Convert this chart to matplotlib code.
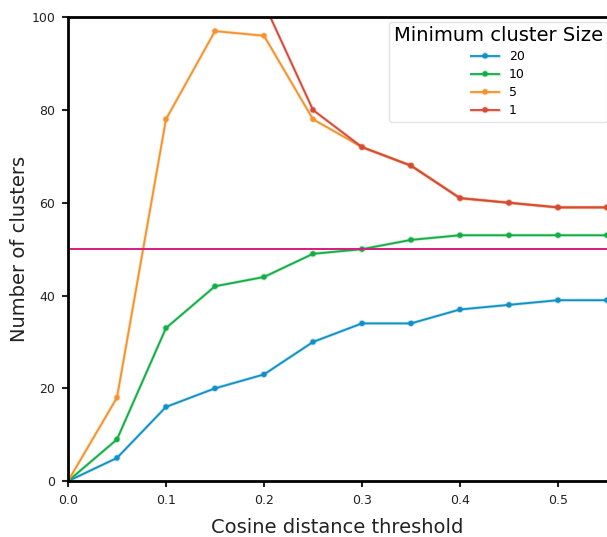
import matplotlib
matplotlib.use("Agg")
import matplotlib.pyplot as plt
import matplotlib.patheffects as pe

thresholds = [0.0, 0.05, 0.1, 0.15, 0.2, 0.25, 0.3, 0.35, 0.4, 0.45, 0.5, 0.55]
size_20 = [0, 5, 16, 20, 23, 30, 34, 34, 37, 38, 39, 39]
size_10 = [0, 9, 33, 42, 44, 49, 50, 52, 53, 53, 53, 53]
size_5 = [0, 18, 78, 97, 96, 78, 72, 68, 61, 60, 59, 59]
thresholds_1 = [0.2, 0.25, 0.3, 0.35, 0.4, 0.45, 0.5, 0.55]
size_1 = [103, 80, 72, 68, 61, 60, 59, 59]
reference_level = 50

series = [
    ("20", thresholds, size_20, "#1190c6"),
    ("10", thresholds, size_10, "#13ad45"),
    ("5", thresholds, size_5, "#f4922c"),
    ("1", thresholds_1, size_1, "#d44a38"),
]

fig = plt.figure(figsize=(6.07, 5.37), dpi=100)
ax = fig.add_axes([0.112, 0.104, 0.888, 0.864])

for name, x, y, color in series:
    ax.plot(x, y, color=color, linewidth=1.3, marker="o", markersize=2.8,
            label=name,
            path_effects=[pe.Stroke(linewidth=2.4, foreground=color, alpha=0.25), pe.Normal()])

ax.axhline(reference_level, color="#d81c7c", linewidth=1.4)

ax.set_xlim(0, 0.55)
ax.set_ylim(0, 100)
ax.set_xticks([0.0, 0.1, 0.2, 0.3, 0.4, 0.5])
ax.set_yticks([0, 20, 40, 60, 80, 100])
ax.tick_params(labelsize=9, width=1.5, length=4, pad=5, colors="#222222")
for s in ax.spines.values():
    s.set_linewidth(2)
    s.set_color("black")
ax.spines["right"].set_visible(False)

ax.set_xlabel("Cosine distance threshold", fontsize=14, labelpad=8, color="#222222")
ax.set_ylabel("Number of clusters", fontsize=14, labelpad=2, color="#222222")

leg = ax.legend(title="Minimum cluster Size", loc="upper right", fontsize=9,
                title_fontsize=14, bbox_to_anchor=(1.0, 0.99), borderaxespad=0.0,
                labelspacing=0.4, handlelength=2.2, borderpad=0.35)
leg.get_frame().set_edgecolor("#dddddd")

fig.savefig("out.png", dpi=100)
